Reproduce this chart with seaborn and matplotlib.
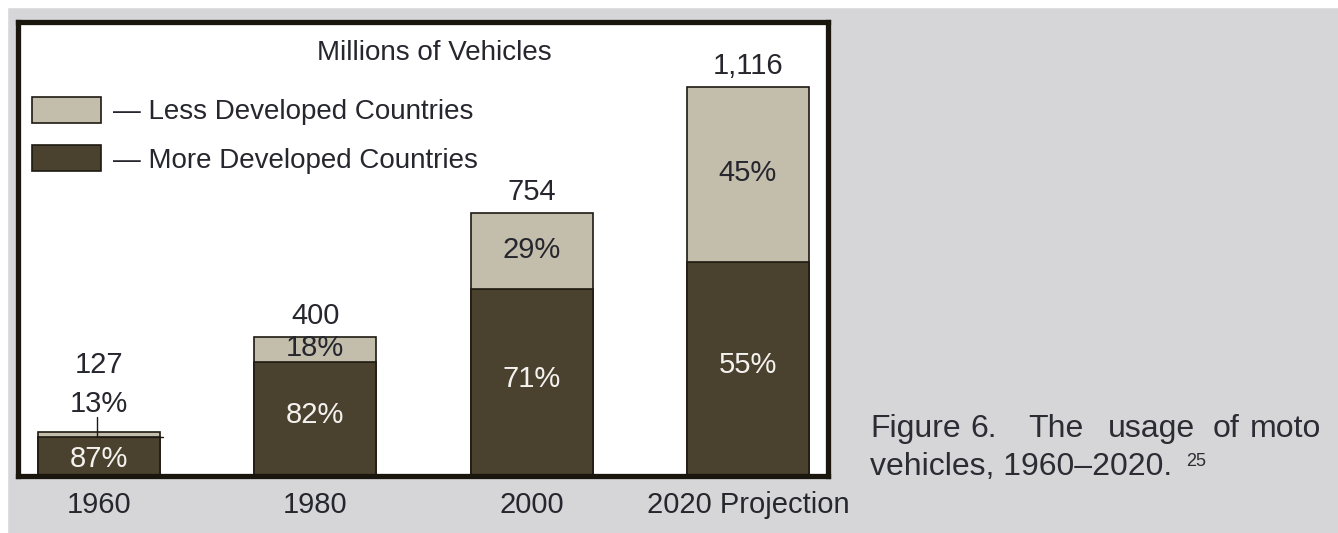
import matplotlib
matplotlib.use("Agg")
import matplotlib.pyplot as plt
import seaborn as sns
import pandas as pd
from matplotlib.patches import Patch, Rectangle

# ---- data ----
years = ["1960", "1980", "2000", "2020 Projection"]
totals = [127, 400, 754, 1116]
total_labels = ["127", "400", "754", "1,116"]
more_pct = [87, 82, 71, 55]
less_pct = [13, 18, 29, 45]

more_vals = [t * p / 100 for t, p in zip(totals, more_pct)]
df = pd.DataFrame({"year": years, "total": totals, "more": more_vals})

sns.set_theme(style="white")
REG = ["Liberation Sans", "DejaVu Sans"]
plt.rcParams["font.family"] = REG

LIGHT = "#c3bdab"
DARK = "#4b412f"
EDGE = "#1e1a12"
TXT = "#26262e"
BG = "#d6d6d8"

W, H = 1338, 533
fig = plt.figure(figsize=(W / 100, H / 100), dpi=100, facecolor=BG)
# white margins top/left as in the scan
fig.patches.append(Rectangle((0, 1 - 7 / H), 1, 7 / H, transform=fig.transFigure,
                             color="white", zorder=0))
fig.patches.append(Rectangle((0, 0), 7 / W, 1, transform=fig.transFigure,
                             color="white", zorder=0))

ax = fig.add_axes([18 / W, 1 - 476 / H, (828 - 18) / W, (476 - 22) / H])
ax.set_facecolor("white")

bw = 0.564
sns.barplot(data=df, x="year", y="total", color=LIGHT, saturation=1, width=bw,
            edgecolor=EDGE, linewidth=1.2, ax=ax, zorder=2)
sns.barplot(data=df, x="year", y="more", color=DARK, saturation=1, width=bw,
            edgecolor=EDGE, linewidth=1.2, ax=ax, zorder=3)

ax.set_xlim(-0.374, 3.37)
ax.set_ylim(0, 1302)
ax.set_xlabel("")
ax.set_ylabel("")
ax.set_yticks([])
ax.tick_params(axis="x", length=0, pad=11, labelsize=21, labelcolor=TXT)
for s in ax.spines.values():
    s.set_visible(True)
    s.set_linewidth(3.8)
    s.set_color("#1a160e")
    s.set_zorder(10)

FS = 21
for i, (t, tl, m, mp, lp) in enumerate(zip(totals, total_labels, more_vals, more_pct, less_pct)):
    if i == 0:
        # small bar: labels above with leader line
        ax.text(i, t + 190, tl, ha="center", va="center", fontsize=FS, color=TXT)
        ax.text(i, t + 80, f"{lp}%", ha="center", va="center", fontsize=FS, color=TXT)
        ax.plot([i - 0.01, i - 0.01], [m, t + 42], color=EDGE, lw=1.0, zorder=4)
        ax.plot([i, i + bw / 2 + 0.015], [m, m], color=EDGE, lw=1.0, zorder=4)
        ax.text(i, m / 2 - 6, f"{mp}%", ha="center", va="center", fontsize=FS,
                color="#f4f2ee", zorder=5)
    else:
        ax.annotate(tl, (i, t), xytext=(0, 5), textcoords="offset points",
                    ha="center", va="bottom", fontsize=FS, color=TXT)
        ax.text(i, (m + t) / 2 + 3, f"{lp}%", ha="center", va="center", fontsize=FS,
                color=TXT, zorder=5)
        ax.text(i, m / 2 + 10, f"{mp}%", ha="center", va="center", fontsize=FS,
                color="#f4f2ee", zorder=5)

ax.text(0.514, 0.932, "Millions of Vehicles", transform=ax.transAxes, ha="center",
        va="center", fontsize=20, color=TXT)

handles = [Patch(facecolor=LIGHT, edgecolor=EDGE, linewidth=1.2),
           Patch(facecolor=DARK, edgecolor=EDGE, linewidth=1.2)]
LFS = 20
ax.legend(handles, ["— Less Developed Countries", "— More Developed Countries"],
          loc="upper left", bbox_to_anchor=((32 - 18) / 810, 1 - (97 - 22) / 454),
          frameon=False, fontsize=LFS, handlelength=2.48, handleheight=1.04,
          handletextpad=0.45, labelspacing=0.72, labelcolor=TXT, borderpad=0,
          borderaxespad=0)

# caption (justified first line)
CFS = 23
cap_words = ["Figure", "6.", "The", "usage", "of", "moto"]
cap_x = [870, 970, 1028, 1108, 1213, 1250]
for w, x in zip(cap_words, cap_x):
    fig.text(x / W, 1 - 437 / H, w, ha="left", va="baseline", fontsize=CFS,
             color="#2c2c34")
fig.text(870 / W, 1 - 475 / H, "vehicles, 1960–2020.", ha="left", va="baseline",
         fontsize=CFS, color="#2c2c34")
fig.text(1186 / W, 1 - 466 / H, "25", ha="left", va="baseline", fontsize=13,
         color="#2c2c34")

fig.savefig("out.png", dpi=100, facecolor=BG)
